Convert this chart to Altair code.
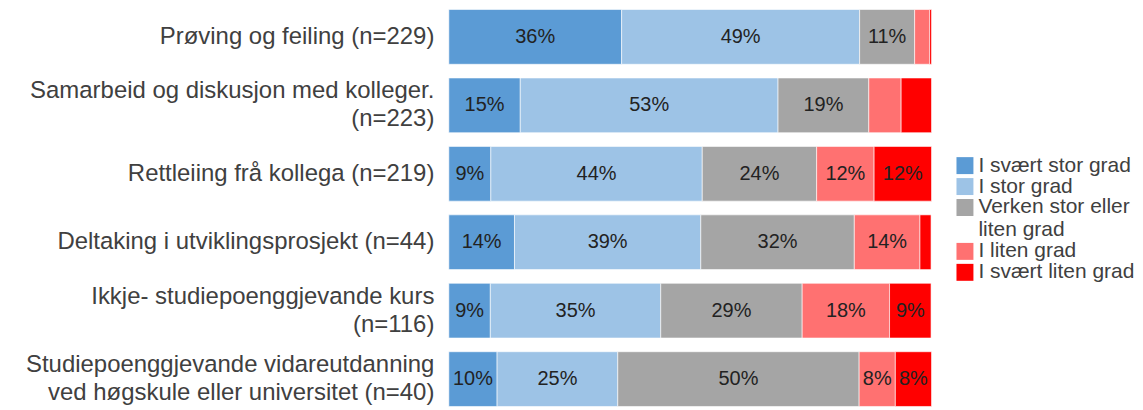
import altair as alt
import pandas as pd

categories = [
    "Prøving og feiling (n=229)",
    "Samarbeid og diskusjon med kolleger.\n(n=223)",
    "Rettleiing frå kollega (n=219)",
    "Deltaking i utviklingsprosjekt (n=44)",
    "Ikkje- studiepoenggjevande kurs\n(n=116)",
    "Studiepoenggjevande vidareutdanning\nved høgskule eller universitet (n=40)",
]
levels = [
    "I svært stor grad",
    "I stor grad",
    "Verken stor eller\nliten grad",
    "I liten grad",
    "I svært liten grad",
]
colors = ["#5B9BD5", "#9DC3E6", "#A5A5A5", "#FF7171", "#FF0000"]

v_svaert_stor = [35.8, 14.8, 8.7, 13.6, 8.6, 10.0]
v_stor = [49.3, 53.4, 43.8, 38.6, 35.3, 25.0]
v_verken = [11.4, 18.8, 23.7, 31.8, 29.3, 50.0]
v_liten = [3.1, 6.7, 11.9, 13.6, 18.1, 7.5]
v_svaert_liten = [0.4, 6.3, 11.9, 2.3, 8.6, 7.5]

series = [v_svaert_stor, v_stor, v_verken, v_liten, v_svaert_liten]
rows = []
for li, (lev, vals) in enumerate(zip(levels, series)):
    for ci, cat in enumerate(categories):
        rows.append({"cat": cat, "level": lev, "order": li, "pct": vals[ci]})
df = pd.DataFrame(rows)

base = alt.Chart(df).transform_stack(
    stack="pct", as_=["x0", "x1"], groupby=["cat"],
    sort=[alt.SortField(field="order", order="ascending")]
).transform_calculate(
    mid="(datum.x0 + datum.x1) / 2",
    lab="format(datum.pct, '.0f') + '%'"
)

yenc = alt.Y(
    "cat:N", sort=categories, title=None,
    scale=alt.Scale(paddingInner=0.2, paddingOuter=0.0),
    axis=alt.Axis(
        labelExpr="split(datum.label, '\\n')",
        labelFontSize=24, labelFont="Liberation Sans", labelColor="#404040",
        labelLineHeight=28, labelPadding=15, ticks=False, domain=False,
        minExtent=442, maxExtent=442, labelLimit=0,
        labelOffset={"condition": {"test": "indexof(datum.value, '\\n') >= 0", "value": -14}, "value": 0},
    ),
)

bars = base.mark_bar(stroke="#ffffff", strokeWidth=0.6).encode(
    x=alt.X("x0:Q", scale=alt.Scale(domain=[0, 100], nice=False, zero=True), axis=None),
    x2="x1:Q",
    y=yenc,
    color=alt.Color(
        "level:N",
        scale=alt.Scale(domain=levels, range=colors),
        legend=alt.Legend(
            title=None, orient="none", legendX=507, legendY=146,
            symbolType="square", symbolSize=289, symbolStrokeWidth=0,
            symbolOpacity=1,
            labelFontSize=21, labelFont="Liberation Sans", labelColor="#404040",
            rowPadding=-1, labelOffset=3, labelLimit=0,
            labelExpr="split(datum.label, '\\n')",
        ),
    ),
)

text = base.transform_filter("datum.pct >= 7").mark_text(
    font="Liberation Sans", fontSize=20, color="#222222"
).encode(
    x=alt.X("mid:Q"),
    y=alt.Y("cat:N", sort=categories),
    text="lab:N",
)

chart = alt.layer(bars, text).properties(
    width=484, height=398,
    padding={"left": 0, "top": 0, "right": 0, "bottom": 0},
).configure_view(stroke=None)

chart.save("out.html", embed_options={"renderer": "svg", "actions": False})
